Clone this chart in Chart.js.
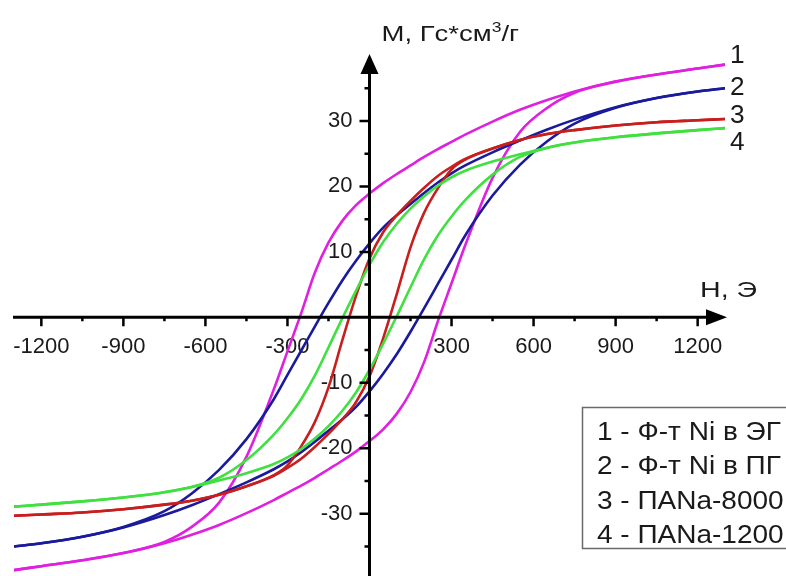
<!DOCTYPE html>
<html>
<head>
<meta charset="utf-8">
<title>Hysteresis loops</title>
<script src="https://cdn.jsdelivr.net/npm/chart.js@4.4.1/dist/chart.umd.min.js"></script>
<style>
  body { margin: 0; background: #fff; }
  canvas { display: block; }
</style>
</head>
<body>
<canvas id="loopChart" width="786" height="576"></canvas>
<script>
// Field values H, Oe (shared grid for every branch)
const fieldH = [-1300, -1200, -1050, -900, -750, -650, -550, -450, -350, -300, -250, -200, -150, -100, -50,
    0, 50, 100, 150, 200, 250, 300, 350, 450, 550, 650, 750, 900, 1050, 1200, 1300];

// M, Gs*cm3/g — descending branch ("up") and ascending branch ("down") of every loop
const m1Up   = [-38.6, -38.0, -37.1, -36.0, -34.3, -32.0, -28.3, -21.3, -11.0, -5.2, 0.6, 6.8, 11.4, 14.7, 17.1,
    18.9, 20.5, 21.9, 23.2, 24.5, 25.7, 26.8, 27.9, 29.9, 31.7, 33.2, 34.5, 36.0, 37.1, 38.0, 38.6];
const m1Down = [-38.6, -38.0, -37.1, -36.0, -34.5, -33.2, -31.7, -29.9, -27.9, -26.8, -25.7, -24.5, -23.2, -21.9, -20.5,
    -18.9, -17.1, -14.7, -11.4, -6.8, -0.6, 5.2, 11.0, 21.3, 28.3, 32.0, 34.3, 36.0, 37.1, 38.0, 38.6];

const m2Up   = [-35.0, -34.5, -33.5, -32.0, -29.6, -26.9, -23.3, -18.6, -12.5, -8.8, -5.1, -1.4, 2.2, 5.6, 8.6,
    11.3, 13.7, 15.6, 17.3, 19.0, 20.6, 22.0, 23.2, 25.2, 27.0, 28.7, 30.2, 32.1, 33.5, 34.5, 35.0];
const m2Down = [-35.0, -34.5, -33.5, -32.1, -30.2, -28.7, -27.0, -25.2, -23.2, -22.0, -20.6, -19.0, -17.3, -15.6, -13.7,
    -11.3, -8.6, -5.6, -2.2, 1.4, 5.1, 8.8, 12.5, 18.6, 23.3, 26.9, 29.6, 32.0, 33.5, 34.5, 35.0];

const m3Up   = [-30.3, -30.1, -29.8, -29.3, -28.6, -28.0, -27.1, -25.8, -24.1, -22.6, -19.7, -16.0, -10.7, -3.6, 3.2,
    9.0, 13.0, 15.6, 17.8, 19.8, 21.6, 23.0, 24.2, 25.8, 27.1, 28.0, 28.6, 29.3, 29.8, 30.1, 30.3];
const m3Down = [-30.3, -30.1, -29.8, -29.3, -28.6, -28.0, -27.1, -25.8, -24.2, -23.0, -21.6, -19.8, -17.8, -15.6, -13.0,
    -9.0, -3.2, 3.6, 10.7, 16.0, 19.7, 22.6, 24.1, 25.8, 27.1, 28.0, 28.6, 29.3, 29.8, 30.1, 30.3];

const m4Up   = [-28.9, -28.6, -28.1, -27.5, -26.7, -25.9, -24.5, -21.8, -17.9, -15.4, -12.5, -8.9, -4.6, -0.2, 4.0,
    8.0, 11.5, 14.3, 16.6, 18.5, 20.1, 21.4, 22.4, 23.8, 24.9, 25.9, 26.7, 27.5, 28.1, 28.6, 28.9];
const m4Down = [-28.9, -28.6, -28.1, -27.5, -26.7, -25.9, -24.9, -23.8, -22.4, -21.4, -20.1, -18.5, -16.6, -14.3, -11.5,
    -8.0, -4.0, 0.2, 4.6, 8.9, 12.5, 15.4, 17.9, 21.8, 24.5, 25.9, 26.7, 27.5, 28.1, 28.6, 28.9];

// Axis ticks
const xTicks = [-1200, -900, -600, -300, 300, 600, 900, 1200];
const xMinorTicks = [-1050, -750, -450, -150, 150, 450, 750, 1050];
const yTicks = [-30, -20, -10, 10, 20, 30];
const yMinorTicks = [-35, -25, -15, -5, 5, 15, 25, 35];

// Curve numbers and legend lines
const curveNumbers = ['1', '2', '3', '4'];
const legendLines = ['1 - Ф-т Ni в ЭГ', '2 - Ф-т Ni в ПГ', '3 - ПАNa-8000', '4 - ПАNa-1200'];
const curveColors = ['#e020e0', '#1a1a9c', '#c81e1e', '#40e040'];

const FONT = '"Liberation Sans", Arial, sans-serif';
const TEXT_COLOR = '#1a1a1a';

function toPoints(ms) {
    return fieldH.map((h, i) => ({ x: h, y: ms[i] }));
}

function branch(ms, color) {
    return {
        data: toPoints(ms),
        borderColor: color,
        borderWidth: 2.6,
        pointRadius: 0,
        showLine: true,
        fill: false,
        cubicInterpolationMode: 'monotone'
    };
}

// draw text stretched horizontally
function wideText(ctx, text, x, y, sx) {
    ctx.save();
    ctx.translate(x, y);
    ctx.scale(sx, 1);
    ctx.fillText(text, 0, 0);
    ctx.restore();
}

const decorPlugin = {
    id: 'decor',
    // tick labels go under the curves
    beforeDatasetsDraw(chart) {
        const { ctx, scales: { x, y } } = chart;
        const x0 = x.getPixelForValue(0);
        const y0 = y.getPixelForValue(0);
        ctx.save();
        ctx.fillStyle = TEXT_COLOR;
        ctx.font = '22px ' + FONT;
        ctx.textAlign = 'center';
        ctx.textBaseline = 'middle';
        xTicks.forEach(v => ctx.fillText(String(v), x.getPixelForValue(v), y0 + 30));
        ctx.textAlign = 'right';
        yTicks.forEach(v => ctx.fillText(String(v), x0 - 17, y.getPixelForValue(v)));
        ctx.restore();
    },
    afterDatasetsDraw(chart) {
        const { ctx, scales: { x, y } } = chart;
        const x0 = x.getPixelForValue(0);
        const y0 = y.getPixelForValue(0);
        ctx.save();
        ctx.strokeStyle = '#000';
        ctx.fillStyle = '#000';
        ctx.lineWidth = 3;

        // axis lines
        ctx.beginPath();
        ctx.moveTo(x.left - 1, y0);
        ctx.lineTo(x.right - 15, y0);
        ctx.moveTo(x0, y.bottom);
        ctx.lineTo(x0, y.top + 8);
        ctx.stroke();

        // arrows
        ctx.beginPath();
        ctx.moveTo(x.right + 2, y0);
        ctx.lineTo(x.right - 19, y0 - 8);
        ctx.lineTo(x.right - 19, y0 + 8);
        ctx.closePath();
        ctx.fill();
        ctx.beginPath();
        ctx.moveTo(x0, y.top - 8);
        ctx.lineTo(x0 - 9, y.top + 12);
        ctx.lineTo(x0 + 9, y.top + 12);
        ctx.closePath();
        ctx.fill();

        // tick marks
        ctx.lineWidth = 2.5;
        ctx.beginPath();
        xTicks.concat(xMinorTicks).forEach(v => {
            const px = x.getPixelForValue(v);
            const len = xTicks.includes(v) ? 9 : 4;
            ctx.moveTo(px, y0);
            ctx.lineTo(px, y0 + len);
        });
        yTicks.concat(yMinorTicks).forEach(v => {
            const py = y.getPixelForValue(v);
            const len = yTicks.includes(v) ? 10 : 5;
            ctx.moveTo(x0, py);
            ctx.lineTo(x0 - len, py);
        });
        ctx.stroke();

        // axis titles
        ctx.fillStyle = TEXT_COLOR;
        ctx.textBaseline = 'alphabetic';
        ctx.textAlign = 'left';
        ctx.font = '22px ' + FONT;
        const sx = 1.25;
        const part1 = 'M, Гс*см';
        let tx = x0 + 12;
        wideText(ctx, part1, tx, 41, sx);
        tx += ctx.measureText(part1).width * sx;
        ctx.font = '14px ' + FONT;
        wideText(ctx, '3', tx, 32, sx);
        tx += ctx.measureText('3').width * sx;
        ctx.font = '22px ' + FONT;
        wideText(ctx, '/г', tx, 41, sx);
        wideText(ctx, 'H, Э', 700, 297, 1.3);

        // curve numbers at the right ends
        ctx.font = '25px ' + FONT;
        const numBase = [63, 95, 123, 150];
        curveNumbers.forEach((n, i) => wideText(ctx, n, 730, numBase[i], 1.05));

        // legend box
        ctx.strokeStyle = '#6a6a6a';
        ctx.lineWidth = 1.5;
        ctx.strokeRect(582.5, 407.5, 220, 141);
        ctx.font = '25px ' + FONT;
        const legBase = [440, 474, 509, 543];
        legendLines.forEach((t, i) => wideText(ctx, t, 597, legBase[i], 1.12));
        ctx.restore();
    }
};

const datasets = [
    branch(m4Up, curveColors[3]), branch(m4Down, curveColors[3]),
    branch(m3Up, curveColors[2]), branch(m3Down, curveColors[2]),
    branch(m2Up, curveColors[1]), branch(m2Down, curveColors[1]),
    branch(m1Up, curveColors[0]), branch(m1Down, curveColors[0])
];

new Chart(document.getElementById('loopChart'), {
    type: 'scatter',
    data: { datasets: datasets },
    options: {
        responsive: false,
        animation: false,
        devicePixelRatio: 1,
        layout: { padding: { left: 14, right: 61, top: 62, bottom: 0 } },
        plugins: { legend: { display: false }, tooltip: { enabled: false } },
        scales: {
            x: { type: 'linear', min: -1300, max: 1300, display: false },
            y: { type: 'linear', min: -39.5, max: 39, display: false }
        }
    },
    plugins: [decorPlugin]
});
</script>
</body>
</html>
